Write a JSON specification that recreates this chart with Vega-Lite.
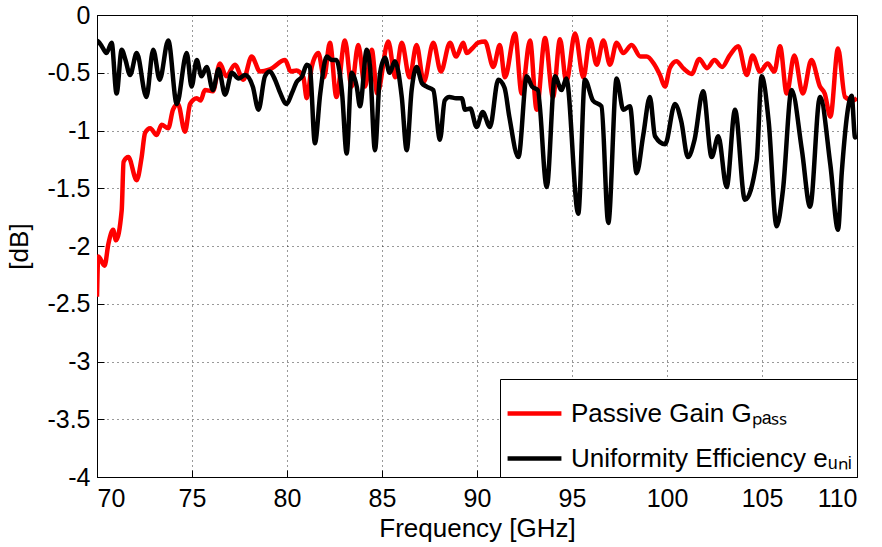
{
  "$schema": "https://vega.github.io/schema/vega-lite/v6.json",
  "width": 760,
  "height": 462,
  "autosize": {"type": "none"},
  "padding": {"left": 97, "top": 15, "right": 25, "bottom": 70},
  "background": "white",
  "config": {
    "font": "Liberation Sans",
    "view": {"stroke": "black", "strokeWidth": 1},
    "axis": {
      "domainColor": "black",
      "tickColor": "black",
      "tickSize": -7,
      "labelColor": "black",
      "titleColor": "black",
      "labelFont": "Liberation Sans",
      "titleFont": "Liberation Sans",
      "labelFontSize": 25,
      "titleFontSize": 26,
      "titleFontWeight": "normal",
      "grid": true,
      "gridColor": "black",
      "gridDash": [1, 4],
      "gridWidth": 1,
      "gridOpacity": 0.8
    },
    "legend": {
      "orient": "bottom-right",
      "offset": 0,
      "title": null,
      "strokeColor": "black",
      "fillColor": "white",
      "padding": 5,
      "symbolType": "stroke",
      "symbolSize": 2900,
      "symbolStrokeWidth": 4.5,
      "labelFontSize": 26,
      "labelFont": "Liberation Sans",
      "labelColor": "black",
      "labelOffset": 7,
      "rowPadding": 2,
      "labelLimit": 500
    }
  },
  "layer": [
    {
      "data": {"values": [
        {"f":70.0,"v":-2.44},{"f":70.07,"v":-2.09},{"f":70.4,"v":-2.17},{"f":70.6,"v":-1.98},{"f":70.85,"v":-1.86},{"f":71.0,"v":-1.95},{"f":71.3,"v":-1.69},{"f":71.4,"v":-1.27},{"f":71.65,"v":-1.23},{"f":72.09,"v":-1.43},{"f":72.35,"v":-1.23},{"f":72.53,"v":-1.02},{"f":72.8,"v":-0.98},{"f":73.14,"v":-1.04},{"f":73.4,"v":-0.95},{"f":73.75,"v":-0.98},{"f":74.0,"v":-0.82},{"f":74.26,"v":-0.77},{"f":74.63,"v":-1.01},{"f":74.9,"v":-0.77},{"f":75.25,"v":-0.72},{"f":75.45,"v":-0.74},{"f":75.68,"v":-0.65},{"f":76.1,"v":-0.66},{"f":76.47,"v":-0.42},{"f":76.8,"v":-0.53},{"f":77.26,"v":-0.43},{"f":77.7,"v":-0.56},{"f":78.14,"v":-0.36},{"f":78.58,"v":-0.49},{"f":79.1,"v":-0.47},{"f":79.9,"v":-0.39},{"f":80.2,"v":-0.49},{"f":80.5,"v":-0.48},{"f":80.86,"v":-0.54},{"f":81.04,"v":-0.72},{"f":81.3,"v":-0.45},{"f":81.65,"v":-0.33},{"f":81.95,"v":-0.54},{"f":82.26,"v":-0.24},{"f":82.6,"v":-0.71},{"f":83.05,"v":-0.22},{"f":83.4,"v":-0.62},{"f":83.75,"v":-0.26},{"f":84.1,"v":-0.62},{"f":84.46,"v":-0.30},{"f":84.75,"v":-0.68},{"f":85.33,"v":-0.23},{"f":85.7,"v":-0.54},{"f":86.04,"v":-0.24},{"f":86.45,"v":-0.54},{"f":86.82,"v":-0.26},{"f":87.2,"v":-0.58},{"f":87.7,"v":-0.24},{"f":88.1,"v":-0.49},{"f":88.58,"v":-0.24},{"f":88.9,"v":-0.36},{"f":89.28,"v":-0.24},{"f":89.46,"v":-0.33},{"f":89.75,"v":-0.29},{"f":90.07,"v":-0.24},{"f":90.42,"v":-0.23},{"f":90.86,"v":-0.45},{"f":91.2,"v":-0.26},{"f":91.47,"v":-0.54},{"f":92.0,"v":-0.16},{"f":92.35,"v":-0.68},{"f":92.79,"v":-0.22},{"f":93.14,"v":-0.82},{"f":93.58,"v":-0.20},{"f":94.0,"v":-0.71},{"f":94.37,"v":-0.21},{"f":94.7,"v":-0.58},{"f":95.16,"v":-0.16},{"f":95.6,"v":-0.54},{"f":95.95,"v":-0.21},{"f":96.3,"v":-0.43},{"f":96.65,"v":-0.22},{"f":97.0,"v":-0.43},{"f":97.35,"v":-0.24},{"f":97.7,"v":-0.33},{"f":98.14,"v":-0.26},{"f":98.6,"v":-0.36},{"f":98.93,"v":-0.36},{"f":99.3,"v":-0.42},{"f":99.63,"v":-0.52},{"f":99.89,"v":-0.62},{"f":100.15,"v":-0.46},{"f":100.5,"v":-0.40},{"f":100.85,"v":-0.46},{"f":101.3,"v":-0.51},{"f":101.7,"v":-0.38},{"f":102.1,"v":-0.46},{"f":102.5,"v":-0.39},{"f":102.9,"v":-0.45},{"f":103.3,"v":-0.35},{"f":103.75,"v":-0.27},{"f":104.2,"v":-0.52},{"f":104.5,"v":-0.35},{"f":104.9,"v":-0.49},{"f":105.3,"v":-0.42},{"f":105.65,"v":-0.49},{"f":105.95,"v":-0.27},{"f":106.3,"v":-0.68},{"f":106.7,"v":-0.35},{"f":107.15,"v":-0.68},{"f":107.6,"v":-0.39},{"f":108.05,"v":-0.62},{"f":108.3,"v":-0.68},{"f":108.6,"v":-0.88},{"f":109.0,"v":-0.29},{"f":109.37,"v":-0.71},{"f":109.8,"v":-0.74},{"f":110.0,"v":-0.72}
      ]},
      "mark": {"type": "line", "strokeWidth": 4.5, "clip": true, "interpolate": "monotone"},
      "encoding": {
        "x": {"field": "f", "type": "quantitative", "scale": {"domain": [70, 110], "nice": false}, "axis": {"values": [70,75,80,85,90,95,100,105,110], "title": "Frequency [GHz]", "labelPadding": 16, "titlePadding": 4}},
        "y": {"field": "v", "type": "quantitative", "scale": {"domain": [-4, 0], "nice": false}, "axis": {"values": [-4,-3.5,-3,-2.5,-2,-1.5,-1,-0.5,0], "labelExpr": "'' + datum.value", "title": "[dB]", "labelPadding": 14, "titlePadding": 14}},
        "color": {"datum": "Passive Gain Gₚₐₛₛ", "scale": {"domain": ["Passive Gain Gₚₐₛₛ", "Uniformity Efficiency eᵤₙᵢ"], "range": ["#ff0000", "#000000"]}}
      }
    },
    {
      "data": {"values": [
        {"f":70.0,"v":-0.22},{"f":70.07,"v":-0.23},{"f":70.25,"v":-0.27},{"f":70.5,"v":-0.33},{"f":70.77,"v":-0.24},{"f":71.03,"v":-0.68},{"f":71.3,"v":-0.30},{"f":71.5,"v":-0.39},{"f":71.74,"v":-0.52},{"f":72.09,"v":-0.33},{"f":72.6,"v":-0.71},{"f":72.96,"v":-0.30},{"f":73.3,"v":-0.56},{"f":73.75,"v":-0.22},{"f":74.2,"v":-0.77},{"f":74.72,"v":-0.33},{"f":74.98,"v":-0.62},{"f":75.25,"v":-0.39},{"f":75.5,"v":-0.53},{"f":75.77,"v":-0.45},{"f":76.1,"v":-0.65},{"f":76.4,"v":-0.47},{"f":76.74,"v":-0.69},{"f":77.1,"v":-0.50},{"f":77.45,"v":-0.55},{"f":77.8,"v":-0.52},{"f":78.2,"v":-0.62},{"f":78.5,"v":-0.82},{"f":78.84,"v":-0.53},{"f":79.1,"v":-0.49},{"f":79.37,"v":-0.56},{"f":79.63,"v":-0.67},{"f":79.98,"v":-0.77},{"f":80.25,"v":-0.68},{"f":80.51,"v":-0.58},{"f":80.8,"v":-0.53},{"f":81.04,"v":-0.43},{"f":81.2,"v":-0.45},{"f":81.47,"v":-1.11},{"f":81.75,"v":-0.68},{"f":82.09,"v":-0.36},{"f":82.35,"v":-0.39},{"f":82.6,"v":-0.39},{"f":82.9,"v":-0.68},{"f":83.14,"v":-1.20},{"f":83.4,"v":-0.50},{"f":83.67,"v":-0.62},{"f":83.84,"v":-0.79},{"f":84.2,"v":-0.30},{"f":84.37,"v":-0.45},{"f":84.63,"v":-1.17},{"f":84.9,"v":-0.50},{"f":85.16,"v":-0.37},{"f":85.4,"v":-0.50},{"f":85.68,"v":-0.40},{"f":86.04,"v":-0.71},{"f":86.3,"v":-1.17},{"f":86.56,"v":-0.65},{"f":86.82,"v":-0.45},{"f":87.1,"v":-0.59},{"f":87.35,"v":-0.62},{"f":87.7,"v":-0.65},{"f":88.05,"v":-1.08},{"f":88.3,"v":-0.74},{"f":88.55,"v":-0.71},{"f":88.9,"v":-0.72},{"f":89.2,"v":-0.72},{"f":89.37,"v":-0.82},{"f":89.65,"v":-0.81},{"f":89.98,"v":-0.97},{"f":90.3,"v":-0.84},{"f":90.68,"v":-0.97},{"f":91.12,"v":-0.56},{"f":91.45,"v":-0.63},{"f":91.7,"v":-0.88},{"f":92.18,"v":-1.23},{"f":92.62,"v":-0.53},{"f":92.9,"v":-0.62},{"f":93.2,"v":-0.65},{"f":93.67,"v":-1.49},{"f":94.1,"v":-0.53},{"f":94.45,"v":-0.65},{"f":94.7,"v":-0.55},{"f":95.33,"v":-1.72},{"f":95.68,"v":-0.56},{"f":96.1,"v":-0.74},{"f":96.55,"v":-0.79},{"f":96.91,"v":-1.80},{"f":97.35,"v":-0.55},{"f":97.7,"v":-0.82},{"f":98.05,"v":-0.79},{"f":98.4,"v":-1.37},{"f":98.75,"v":-1.04},{"f":99.1,"v":-0.71},{"f":99.37,"v":-1.05},{"f":99.9,"v":-1.12},{"f":100.42,"v":-0.77},{"f":100.75,"v":-0.92},{"f":101.1,"v":-1.23},{"f":101.45,"v":-1.08},{"f":101.9,"v":-0.66},{"f":102.35,"v":-1.23},{"f":102.7,"v":-1.05},{"f":103.14,"v":-1.49},{"f":103.58,"v":-0.82},{"f":104.1,"v":-1.60},{"f":104.72,"v":-1.26},{"f":104.98,"v":-0.53},{"f":105.35,"v":-0.92},{"f":105.77,"v":-1.83},{"f":106.1,"v":-1.52},{"f":106.56,"v":-0.65},{"f":107.1,"v":-1.17},{"f":107.53,"v":-1.66},{"f":108.05,"v":-0.71},{"f":108.6,"v":-1.30},{"f":109.0,"v":-1.86},{"f":109.2,"v":-1.36},{"f":109.72,"v":-0.70},{"f":109.9,"v":-1.06},{"f":110.0,"v":-1.05}
      ]},
      "mark": {"type": "line", "strokeWidth": 4.5, "clip": true, "interpolate": "monotone"},
      "encoding": {
        "x": {"field": "f", "type": "quantitative"},
        "y": {"field": "v", "type": "quantitative"},
        "color": {"datum": "Uniformity Efficiency eᵤₙᵢ"}
      }
    }
  ]
}
